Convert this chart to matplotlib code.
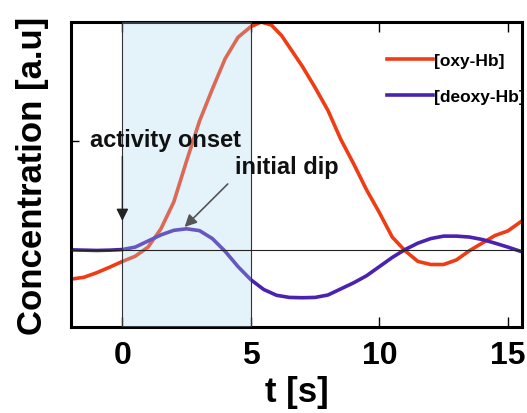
import matplotlib
matplotlib.use('Agg')
import matplotlib.pyplot as plt

plt.rcParams['font.family'] = ['Liberation Sans', 'DejaVu Sans']

# time axis [s]
t = [-2, -1.5, -1, -0.5, 0, 0.5, 1.0, 1.5, 2.0, 2.5, 3.0, 3.5, 4.0, 4.5, 5.0,
     5.4, 5.8, 6.2, 6.6, 7.0, 7.5, 8.0, 8.5, 9.0, 9.5, 10.0, 10.5, 11.0,
     11.5, 12.0, 12.5, 13.0, 13.5, 14.0, 14.5, 15.0, 15.5]

oxy = [0.157, 0.163, 0.178, 0.196, 0.215, 0.232, 0.262, 0.322, 0.410, 0.545,
       0.675, 0.780, 0.880, 0.950, 0.985, 1.000, 0.990, 0.955, 0.905, 0.855,
       0.785, 0.710, 0.615, 0.535, 0.450, 0.375, 0.295, 0.250, 0.215, 0.205,
       0.205, 0.220, 0.250, 0.275, 0.300, 0.315, 0.345]

t_deoxy = [-2, -1.5, -1, -0.5, 0, 0.5, 1.0, 1.5, 2.0, 2.5, 3.0, 3.5, 4.0, 4.5,
           5.0, 5.5, 6.0, 6.5, 7.0, 7.5, 8.0, 8.5, 9.0, 9.5, 10.0, 10.5, 11.0,
           11.5, 12.0, 12.5, 13.0, 13.5, 14.0, 14.5, 15.0, 15.5]

deoxy = [0.253, 0.252, 0.251, 0.252, 0.254, 0.262, 0.282, 0.302, 0.317, 0.322,
         0.316, 0.290, 0.248, 0.198, 0.155, 0.123, 0.104, 0.097, 0.096, 0.097,
         0.105, 0.125, 0.145, 0.168, 0.198, 0.228, 0.254, 0.275, 0.290, 0.298,
         0.298, 0.295, 0.287, 0.275, 0.262, 0.248]

baseline = 0.253
onset, stim_end = 0, 5

fig = plt.figure(figsize=(5.27, 4.14), dpi=100)
ax = fig.add_axes([0.1347, 0.2077, 0.8558, 0.7367])

ax.plot(t, oxy, color='#f03c14', lw=2.6, label='[oxy-Hb]', zorder=2,
        solid_joinstyle='round')
ax.plot(t_deoxy, deoxy, color='#4a22b0', lw=2.6, label='[deoxy-Hb]', zorder=2,
        solid_joinstyle='round')

# stimulus period shading, drawn over the curves like the original
ax.axvspan(onset, stim_end, color='#a8d4f0', alpha=0.3, lw=0, zorder=3)
ax.axvline(onset, color='#333333', lw=0.8, zorder=4)
ax.axvline(stim_end, color='#333333', lw=0.8, zorder=4)
ax.axhline(baseline, color='#222222', lw=0.8, zorder=4)

ax.set_xlim(-2, 15.55)
ax.set_ylim(0, 1)
ax.set_xticks([0, 5, 10, 15])
ax.set_yticks([0.61])
ax.set_yticklabels([''])
ax.tick_params(axis='x', direction='in', top=True, length=7, width=1,
               labelsize=23, pad=9)
ax.tick_params(axis='y', direction='in', length=6, width=1)
for lab in ax.get_xticklabels():
    lab.set_fontweight('bold')
for s in ax.spines.values():
    s.set_linewidth(2.2)

ax.set_xlabel('t [s]', fontsize=25, fontweight='bold', labelpad=4)
ax.set_ylabel('Concentration [a.u]', fontsize=25, fontweight='bold', labelpad=12)

# annotations
ax.text(1.68, 0.616, 'activity onset', ha='center', va='center', fontsize=17,
        fontweight='bold', color='#111111', zorder=5)
ax.annotate('', xy=(0, 0.348), xytext=(0, 0.56), zorder=5,
            arrowprops=dict(arrowstyle='-|>', color='#222222', lw=1,
                            mutation_scale=18, shrinkA=0, shrinkB=0))
ax.text(6.4, 0.525, 'initial dip', ha='center', va='center', fontsize=17,
        fontweight='bold', color='#111111', zorder=5)
ax.annotate('', xy=(2.42, 0.328), xytext=(4.10, 0.469), zorder=5,
            arrowprops=dict(arrowstyle='-|>', color='#555555', lw=1.2,
                            mutation_scale=18, shrinkA=0, shrinkB=0))

leg = ax.legend(loc='upper left', bbox_to_anchor=(0.70, 0.90), frameon=False,
                fontsize=12.5, handlelength=2.65, handletextpad=0.05,
                labelspacing=1.2, borderpad=0, borderaxespad=0)
for txt in leg.get_texts():
    txt.set_fontweight('semibold')

plt.savefig('out.png', dpi=100)
